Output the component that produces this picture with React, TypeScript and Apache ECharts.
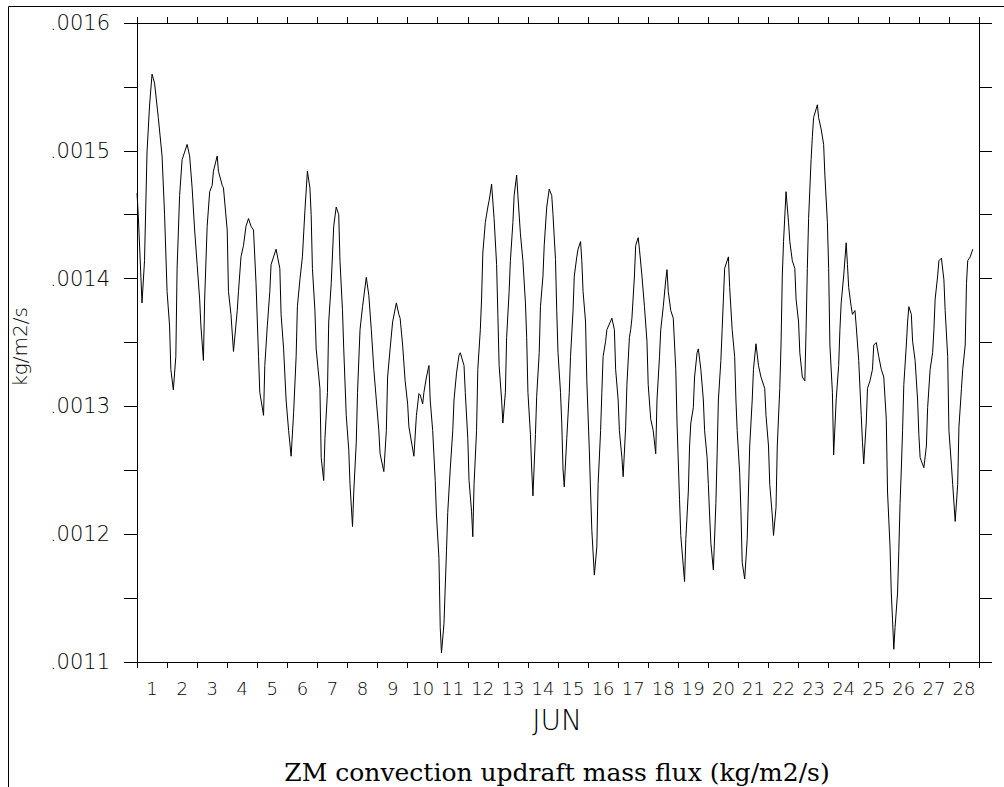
import React, { useEffect, useRef } from "react";
import * as echarts from "echarts";

// Hours since 1 JUN 00Z
const hours: number[] = [
  0, 1, 4, 6, 8, 10, 12, 14, 17, 20, 22, 24, 26, 27, 29, 31, 32, 34, 36, 38, 40, 42, 44, 46, 48, 50, 51, 53,
  54, 56, 58, 60, 61, 64, 65, 68, 69, 72, 73, 75, 77, 80, 81, 83, 85, 87, 89, 91, 93, 95, 97, 98, 101,
  102, 104, 106, 107, 111, 114, 115, 117, 119, 121, 123, 125, 127, 128, 130, 132, 134, 136, 138, 139, 140,
  142, 143, 146, 147, 149, 150, 152, 153, 155, 157, 159, 161, 162, 164, 165, 167, 169, 170, 172, 173, 175,
  176, 178, 180, 183, 185, 187, 189, 191, 193, 194, 197, 199, 200, 202, 204, 207, 209, 210, 212, 214, 216,
  217, 221, 223, 225, 226, 228, 229, 231, 233, 234, 236, 238, 239, 241, 242, 243, 245, 247, 248, 250, 252,
  253, 255, 257, 258, 261, 262, 264, 265, 267, 268, 269, 271, 272, 274, 275, 276, 278, 280, 281, 282, 283,
  285, 287, 288, 289, 291, 292, 294, 295, 297, 298, 300, 301, 303, 304, 306, 308, 310, 311, 312, 314, 315,
  316, 318, 319, 321, 322, 324, 325, 327, 329, 331, 332, 334, 335, 336, 338, 339, 340, 341, 343, 345, 346,
  348, 349, 351, 352, 354, 355, 356, 358, 359, 361, 362, 363, 365, 367, 368, 370, 371, 372, 374, 375, 379,
  381, 382, 384, 385, 387, 388, 390, 391, 393, 394, 395, 397, 398, 400, 401, 403, 405, 407, 408, 410, 412,
  414, 415, 417, 418, 420, 422, 423, 424, 426, 428, 430, 431, 433, 434, 437, 438, 440, 441, 442, 444, 445,
  447, 448, 450, 452, 453, 455, 456, 457, 458, 460, 462, 463, 464, 466, 467, 468, 469, 472, 473, 475, 477,
  478, 479, 481, 482, 483, 485, 487, 488, 489, 491, 492, 494, 496, 498, 501, 502, 504, 505, 507, 508, 510,
  511, 513, 514, 515, 516, 518, 520, 521, 523, 525, 526, 528, 529, 531, 533, 534, 535, 536, 538, 539, 540,
  543, 544, 546, 548, 549, 551, 552, 553, 555, 556, 558, 560, 561, 562, 564, 566, 567, 568, 570, 571, 573,
  574, 576, 578, 579, 580, 582, 583, 585, 587, 588, 590, 592, 594, 596, 598, 599, 601, 602, 603, 604, 605,
  607, 608, 609, 610, 611, 612, 614, 615, 616, 618, 619, 621, 623, 624, 625, 628, 630, 631, 633, 635, 636,
  637, 639, 640, 642, 644, 645, 647, 648, 650, 651, 653, 655, 656, 658, 659, 661, 662, 663, 665, 667,
];

// ZM convection updraft mass flux, in units of 1e-4 kg/m2/s
const fluxE4: number[] = [
  14.67, 14.5, 13.81, 14.14, 14.99, 15.35, 15.6, 15.53, 15.26, 14.96, 14.5, 13.9, 13.63, 13.29, 13.13, 13.39,
  14.08, 14.65, 14.93, 14.99, 15.05, 14.96, 14.71, 14.38, 14.11, 13.84, 13.63, 13.36,
  13.84, 14.41, 14.68, 14.73, 14.84, 14.96, 14.84, 14.73, 14.71, 14.38, 13.9, 13.72, 13.43, 13.75, 13.9,
  14.17, 14.26, 14.41, 14.47, 14.41, 14.38, 13.96, 13.39, 13.11, 12.93,
  13.32, 13.63, 13.9, 14.11, 14.23, 14.08, 13.72, 13.45, 13.05, 12.81, 12.61, 12.95, 13.39, 13.78, 13.99,
  14.17, 14.53, 14.84, 14.71, 14.5, 14.08,
  13.75, 13.45, 13.14, 12.6, 12.42, 12.75, 13.11, 13.66, 13.96, 14.41, 14.56, 14.5, 14.14, 13.75, 13.45,
  12.93, 12.66, 12.39, 12.06, 12.33, 12.72,
  13.11, 13.6, 13.78, 14.01, 13.87, 13.6, 13.29, 13.05, 12.81, 12.63, 12.49, 12.81, 13.23, 13.45, 13.66,
  13.81, 13.72, 13.69, 13.48, 13.2, 13.02,
  12.84, 12.61, 12.93, 13.1, 13.09, 13.02, 13.11, 13.23, 13.32, 13.05, 12.81, 12.42, 12.15, 11.81, 11.27,
  11.07, 11.3, 11.87, 12.17, 12.51, 12.81,
  13.05, 13.26, 13.4, 13.42, 13.32, 13.11, 12.75, 12.42, 12.18, 11.98, 12.39, 12.81, 13.29, 13.6, 13.84,
  14.2, 14.44, 14.56, 14.61, 14.67, 14.74,
  14.47, 14.11, 13.72, 13.32, 13.05, 12.87, 13.11, 13.54, 13.9, 14.14, 14.44, 14.65, 14.81, 14.65, 14.35,
  14.14, 13.81, 13.54, 13.11, 12.78, 12.51,
  12.3, 12.78, 13.08, 13.42, 13.78, 14.02, 14.26, 14.56, 14.7, 14.65, 14.5, 14.15, 13.75, 13.42, 13.11,
  12.87, 12.51, 12.37, 12.75, 13.11, 13.39,
  13.75, 14.02, 14.17, 14.23, 14.29, 14.14, 13.9, 13.66, 13.2, 12.66, 12.33, 12.03, 11.68, 11.9, 12.39,
  12.81, 13.11, 13.39, 13.51, 13.6, 13.69,
  13.6, 13.29, 13.05, 12.81, 12.6, 12.45, 12.84, 13.17, 13.54, 13.6, 13.69, 14.02, 14.26, 14.32, 14.23,
  14.02, 13.78, 13.51, 13.17, 12.9, 12.81,
  12.63, 13.05, 13.39, 13.6, 13.78, 13.99, 14.07, 13.9, 13.75, 13.69, 13.29, 12.87, 12.27, 11.99, 11.63,
  11.96, 12.33, 12.69, 12.87, 12.99, 13.23,
  13.42, 13.45, 13.29, 13.05, 12.81, 12.6, 12.39, 12.15, 11.93, 11.72, 12.24, 12.63, 13.05, 13.36, 13.6,
  13.84, 14.08, 14.17, 13.93, 13.6, 13.39,
  13.05, 12.81, 12.48, 12.18, 11.78, 11.65, 11.96, 12.33, 12.69, 13.05, 13.29, 13.49, 13.32, 13.23, 13.14,
  12.93, 12.69, 12.39, 12.15, 11.99, 12.21,
  12.69, 13.14, 13.48, 14.02, 14.29, 14.68, 14.44, 14.29, 14.14, 14.08, 13.84, 13.66, 13.42, 13.23, 13.2,
  13.6, 14.08, 14.47, 14.93, 15.11, 15.26,
  15.36, 15.26, 15.17, 15.05, 14.81, 14.44, 14.08, 13.48, 13.11, 12.62, 13.05, 13.32, 13.6, 13.81, 14.02,
  14.28, 14.11, 13.93, 13.78, 13.72, 13.75,
  13.63, 13.36, 12.93, 12.72, 12.55, 12.87, 13.14, 13.2, 13.29, 13.48, 13.5, 13.39, 13.29, 13.23, 12.9,
  12.33, 11.9, 11.54, 11.33, 11.1, 11.27,
  11.54, 11.87, 12.24, 12.51, 12.81, 13.17, 13.48, 13.66, 13.78, 13.72, 13.51, 13.36, 13.05, 12.78, 12.6,
  12.52, 12.69, 12.99, 13.29, 13.42, 13.6,
  13.84, 14.02, 14.14, 14.16, 13.99, 13.75, 13.39, 12.81, 12.54, 12.39, 12.1, 12.39, 12.84, 13.14, 13.29,
  13.48, 13.96, 14.14, 14.17, 14.23,
];

const dayLabels: string[] = [
  "1", "2", "3", "4", "5", "6", "7", "8", "9", "10", "11", "12", "13", "14",
  "15", "16", "17", "18", "19", "20", "21", "22", "23", "24", "25", "26", "27", "28",
];

const yMin = 0.0011;
const yMax = 0.0016;
const yStep = 0.00005;
const xMaxHours = 672;

const titleText = "ZM convection updraft mass flux (kg/m2/s)";
const monthText = "JUN";
const unitText = "kg/m2/s";

export default function App() {
  const ref = useRef<HTMLDivElement>(null);

  useEffect(() => {
    if (!ref.current) return;
    const chart = echarts.init(ref.current, undefined, { renderer: "svg" });
    const data = hours.map((h, i) => [h, fluxE4[i] * 1e-4]);
    const axisLine = { show: true, onZero: false, lineStyle: { color: "#000", width: 1 } };
    const labelFont = "DejaVu Sans";
    const labelWeight = 200;

    chart.setOption({
      animation: false,
      backgroundColor: "#fff",
      grid: { left: 137, right: 25, top: 23, bottom: 125, containLabel: false },
      xAxis: [
        {
          type: "value",
          position: "bottom",
          min: 0,
          max: xMaxHours,
          interval: 24,
          axisLine,
          axisTick: { show: true, inside: false, length: 6, lineStyle: { color: "#000" } },
          axisLabel: { show: false },
          splitLine: { show: false },
        },
        {
          type: "category",
          position: "bottom",
          data: dayLabels,
          boundaryGap: true,
          axisLine: { show: false, onZero: false },
          axisTick: { show: false },
          splitLine: { show: false },
          axisLabel: {
            show: true,
            interval: 0,
            margin: 17,
            color: "#000",
            fontFamily: labelFont,
            fontWeight: labelWeight,
            fontSize: 18,
          },
        },
        {
          type: "value",
          position: "top",
          min: 0,
          max: xMaxHours,
          interval: 24,
          axisLine,
          axisTick: { show: true, inside: false, length: 6, lineStyle: { color: "#000" } },
          axisLabel: { show: false },
          splitLine: { show: false },
        },
      ],
      yAxis: [
        {
          type: "value",
          position: "left",
          min: yMin,
          max: yMax,
          interval: yStep,
          axisLine,
          axisTick: { show: true, inside: false, length: 13, lineStyle: { color: "#000" } },
          splitLine: { show: false },
          axisLabel: {
            show: true,
            margin: 27,
            color: "#000",
            fontFamily: labelFont,
            fontWeight: labelWeight,
            fontSize: 21,
            formatter: (v: number) =>
              Math.round(v * 1e5) % 10 === 0 ? v.toFixed(4).replace(/^0/, "") : "",
          },
        },
        {
          type: "value",
          position: "right",
          min: yMin,
          max: yMax,
          interval: yStep,
          axisLine,
          axisTick: { show: true, inside: false, length: 13, lineStyle: { color: "#000" } },
          splitLine: { show: false },
          axisLabel: { show: false },
        },
      ],
      series: [
        {
          type: "line",
          xAxisIndex: 0,
          yAxisIndex: 0,
          data,
          showSymbol: false,
          symbol: "none",
          lineStyle: { color: "#000", width: 1 },
          silent: true,
        },
      ],
      graphic: [
        {
          type: "line",
          shape: { x1: 8.5, y1: 6.5, x2: 1004, y2: 6.5 },
          style: { stroke: "#000", lineWidth: 1 },
        },
        {
          type: "line",
          shape: { x1: 8.5, y1: 6.5, x2: 8.5, y2: 787 },
          style: { stroke: "#000", lineWidth: 1 },
        },
        {
          type: "text",
          x: 557,
          y: 720,
          style: {
            text: monthText,
            fontFamily: labelFont,
            fontWeight: labelWeight,
            fontSize: 28,
            fill: "#000",
            align: "center",
            verticalAlign: "middle",
          },
        },
        {
          type: "text",
          x: 557,
          y: 772,
          style: {
            text: titleText,
            fontFamily: "DejaVu Serif",
            fontSize: 25,
            fill: "#000",
            align: "center",
            verticalAlign: "middle",
          },
        },
        {
          type: "text",
          x: 20,
          y: 347,
          rotation: Math.PI / 2,
          style: {
            text: unitText,
            fontFamily: labelFont,
            fontWeight: labelWeight,
            fontSize: 20,
            fill: "#000",
            align: "center",
            verticalAlign: "middle",
          },
        },
      ],
    });

    return () => chart.dispose();
  }, []);

  return (
    <div
      ref={ref}
      style={{ position: "fixed", left: 0, top: 0, width: 1004, height: 787, background: "#fff" }}
    />
  );
}
